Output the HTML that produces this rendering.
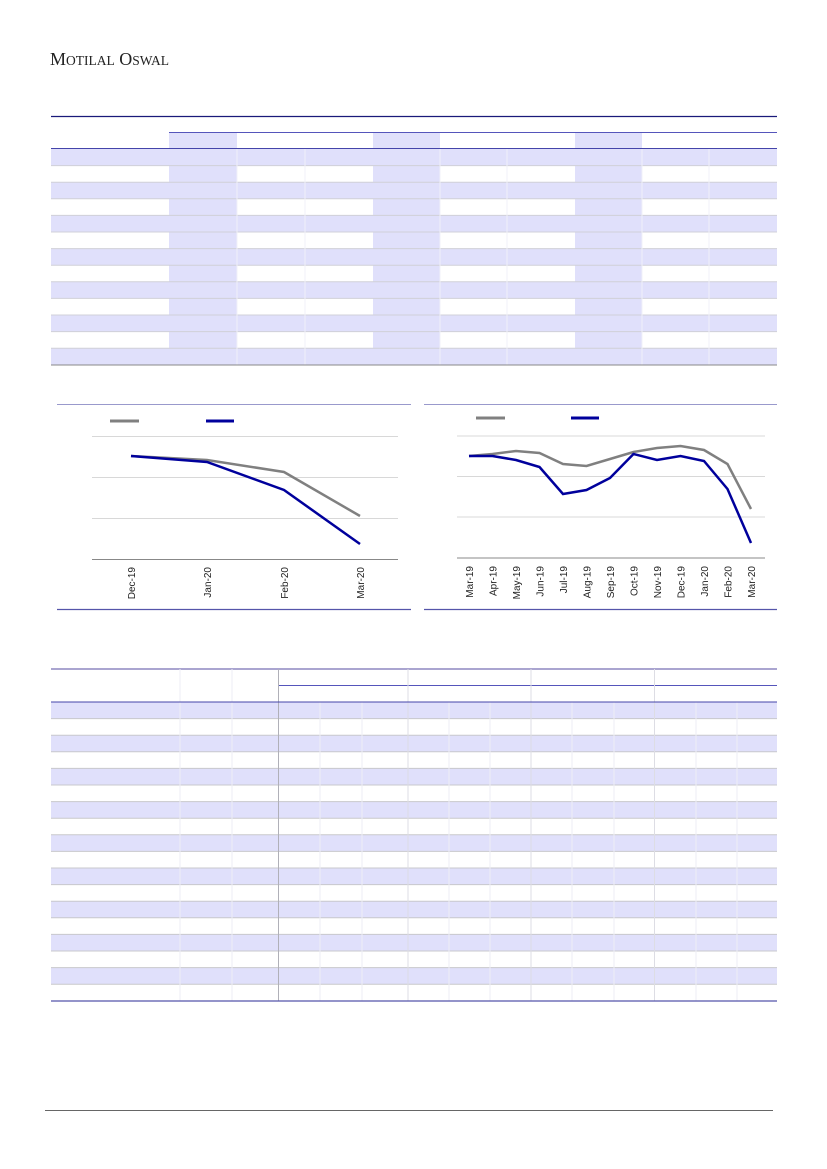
<!DOCTYPE html>
<html><head><meta charset="utf-8"><style>
html,body{margin:0;padding:0;background:#fff}
svg{display:block}
</style></head><body>
<svg width="827" height="1169" viewBox="0 0 827 1169" xmlns="http://www.w3.org/2000/svg" font-family="Liberation Sans, sans-serif">
<text x="50" y="65" font-family="Liberation Serif, serif" font-size="18" fill="#222">M<tspan font-size="13.5">OTILAL</tspan> O<tspan font-size="13.5">SWAL</tspan></text>

<!-- top table -->
<g>
<line x1="51" y1="116.5" x2="777" y2="116.5" stroke="#1a1a7a" stroke-width="1.2"/>
<line x1="169" y1="132.5" x2="777" y2="132.5" stroke="#5555bb" stroke-width="1"/>
<rect x="169" y="133" width="68" height="15" fill="#e0e0fb"/>
<rect x="373" y="133" width="67" height="15" fill="#e0e0fb"/>
<rect x="575" y="133" width="67" height="15" fill="#e0e0fb"/>
<g fill="#e0e0fb">
<rect x="51" y="149" width="726" height="16.6"/>
<rect x="51" y="182.2" width="726" height="16.6"/>
<rect x="51" y="215.4" width="726" height="16.6"/>
<rect x="51" y="248.6" width="726" height="16.6"/>
<rect x="51" y="281.8" width="726" height="16.6"/>
<rect x="51" y="315" width="726" height="16.6"/>
<rect x="51" y="348.2" width="726" height="16.6"/>
<rect x="169" y="149" width="68" height="216"/>
<rect x="373" y="149" width="67" height="216"/>
<rect x="575" y="149" width="67" height="216"/>
</g>
<g stroke="#d0d0d8" stroke-width="1">
<line x1="51" y1="165.6" x2="777" y2="165.6"/><line x1="51" y1="182.2" x2="777" y2="182.2"/>
<line x1="51" y1="198.8" x2="777" y2="198.8"/><line x1="51" y1="215.4" x2="777" y2="215.4"/>
<line x1="51" y1="232" x2="777" y2="232"/><line x1="51" y1="248.6" x2="777" y2="248.6"/>
<line x1="51" y1="265.2" x2="777" y2="265.2"/><line x1="51" y1="281.8" x2="777" y2="281.8"/>
<line x1="51" y1="298.4" x2="777" y2="298.4"/><line x1="51" y1="315" x2="777" y2="315"/>
<line x1="51" y1="331.6" x2="777" y2="331.6"/><line x1="51" y1="348.2" x2="777" y2="348.2"/>
</g>
<g stroke="#f0f0f8" stroke-width="1">
<line x1="237" y1="149" x2="237" y2="365"/><line x1="305" y1="149" x2="305" y2="365"/>
<line x1="440" y1="149" x2="440" y2="365"/><line x1="507" y1="149" x2="507" y2="365"/>
<line x1="642" y1="149" x2="642" y2="365"/><line x1="709" y1="149" x2="709" y2="365"/>
</g>
<line x1="51" y1="148.5" x2="777" y2="148.5" stroke="#4444aa" stroke-width="1"/>
<line x1="51" y1="365" x2="777" y2="365" stroke="#888" stroke-width="1"/>
</g>

<!-- chart 1 -->
<g>
<line x1="57" y1="404.5" x2="411" y2="404.5" stroke="#9999cc" stroke-width="1"/>
<line x1="57" y1="609.5" x2="411" y2="609.5" stroke="#5555aa" stroke-width="1.2"/>
<line x1="110" y1="421" x2="139" y2="421" stroke="#808080" stroke-width="3"/>
<line x1="206" y1="421" x2="234" y2="421" stroke="#00009c" stroke-width="3"/>
<g stroke="#d8d8d8" stroke-width="1"><line x1="92" y1="436.5" x2="398" y2="436.5"/><line x1="92" y1="477.5" x2="398" y2="477.5"/><line x1="92" y1="518.5" x2="398" y2="518.5"/></g>
<line x1="92" y1="559.5" x2="398" y2="559.5" stroke="#888" stroke-width="1"/>
<polyline points="131,456 207,460 284,472 360,516" fill="none" stroke="#808080" stroke-width="2.5"/>
<polyline points="131,456 207,462 284,490 360,544" fill="none" stroke="#00009c" stroke-width="2.5"/>
<g font-size="10" fill="#222" text-anchor="end">
<text transform="translate(135,567) rotate(-90)">Dec-19</text>
<text transform="translate(211,567) rotate(-90)">Jan-20</text>
<text transform="translate(288,567) rotate(-90)">Feb-20</text>
<text transform="translate(364,567) rotate(-90)">Mar-20</text>
</g>
</g>

<!-- chart 2 -->
<g>
<line x1="424" y1="404.5" x2="777" y2="404.5" stroke="#9999cc" stroke-width="1"/>
<line x1="424" y1="609.5" x2="777" y2="609.5" stroke="#5555aa" stroke-width="1.2"/>
<line x1="476" y1="418" x2="505" y2="418" stroke="#808080" stroke-width="3"/>
<line x1="571" y1="418" x2="599" y2="418" stroke="#00009c" stroke-width="3"/>
<g stroke="#d8d8d8" stroke-width="1"><line x1="457" y1="436" x2="765" y2="436"/><line x1="457" y1="476.5" x2="765" y2="476.5"/><line x1="457" y1="517" x2="765" y2="517"/></g>
<line x1="457" y1="558" x2="765" y2="558" stroke="#888" stroke-width="1"/>
<polyline points="469,456 492.5,454 516,451 539.5,453 563,464 586.5,466 610,459 633.5,452 657,448 680.5,446 704,450 727.5,464 751,509" fill="none" stroke="#808080" stroke-width="2.5"/>
<polyline points="469,456 492.5,456 516,460 539.5,467 563,494 586.5,490 610,478 633.5,454 657,460 680.5,456 704,461 727.5,489 751,543" fill="none" stroke="#00009c" stroke-width="2.5"/>
<g font-size="10" fill="#222" text-anchor="end">
<text transform="translate(473,566) rotate(-90)">Mar-19</text>
<text transform="translate(496.5,566) rotate(-90)">Apr-19</text>
<text transform="translate(520,566) rotate(-90)">May-19</text>
<text transform="translate(543.5,566) rotate(-90)">Jun-19</text>
<text transform="translate(567,566) rotate(-90)">Jul-19</text>
<text transform="translate(590.5,566) rotate(-90)">Aug-19</text>
<text transform="translate(614,566) rotate(-90)">Sep-19</text>
<text transform="translate(637.5,566) rotate(-90)">Oct-19</text>
<text transform="translate(661,566) rotate(-90)">Nov-19</text>
<text transform="translate(684.5,566) rotate(-90)">Dec-19</text>
<text transform="translate(708,566) rotate(-90)">Jan-20</text>
<text transform="translate(731.5,566) rotate(-90)">Feb-20</text>
<text transform="translate(755,566) rotate(-90)">Mar-20</text>
</g>
</g>

<!-- bottom table -->
<g>
<line x1="51" y1="669" x2="777" y2="669" stroke="#aaa5d0" stroke-width="2"/>
<line x1="278" y1="685.5" x2="777" y2="685.5" stroke="#5555bb" stroke-width="1"/>
<g fill="#e0e0fb">
<rect x="51" y="702" width="726" height="16.6"/>
<rect x="51" y="735.2" width="726" height="16.6"/>
<rect x="51" y="768.4" width="726" height="16.6"/>
<rect x="51" y="801.6" width="726" height="16.6"/>
<rect x="51" y="834.8" width="726" height="16.6"/>
<rect x="51" y="868" width="726" height="16.6"/>
<rect x="51" y="901.2" width="726" height="16.6"/>
<rect x="51" y="934.4" width="726" height="16.6"/>
<rect x="51" y="967.6" width="726" height="16.6"/>
</g>
<g stroke="#c8c8cc" stroke-width="1">
<line x1="51" y1="718.6" x2="777" y2="718.6"/><line x1="51" y1="735.2" x2="777" y2="735.2"/>
<line x1="51" y1="751.8" x2="777" y2="751.8"/><line x1="51" y1="768.4" x2="777" y2="768.4"/>
<line x1="51" y1="785" x2="777" y2="785"/><line x1="51" y1="801.6" x2="777" y2="801.6"/>
<line x1="51" y1="818.2" x2="777" y2="818.2"/><line x1="51" y1="834.8" x2="777" y2="834.8"/>
<line x1="51" y1="851.4" x2="777" y2="851.4"/><line x1="51" y1="868" x2="777" y2="868"/>
<line x1="51" y1="884.6" x2="777" y2="884.6"/><line x1="51" y1="901.2" x2="777" y2="901.2"/>
<line x1="51" y1="917.8" x2="777" y2="917.8"/><line x1="51" y1="934.4" x2="777" y2="934.4"/>
<line x1="51" y1="951" x2="777" y2="951"/><line x1="51" y1="967.6" x2="777" y2="967.6"/>
<line x1="51" y1="984.2" x2="777" y2="984.2"/>
</g>
<g stroke="#eeeef6" stroke-width="1">
<line x1="180" y1="669" x2="180" y2="1001"/><line x1="232" y1="669" x2="232" y2="1001"/>
<line x1="320" y1="702" x2="320" y2="1001"/><line x1="362" y1="702" x2="362" y2="1001"/>
<line x1="449" y1="702" x2="449" y2="1001"/><line x1="490" y1="702" x2="490" y2="1001"/>
<line x1="572" y1="702" x2="572" y2="1001"/><line x1="614" y1="702" x2="614" y2="1001"/>
<line x1="696" y1="702" x2="696" y2="1001"/><line x1="737" y1="702" x2="737" y2="1001"/>
</g>
<g stroke="#dddde4" stroke-width="1">
<line x1="408" y1="669" x2="408" y2="1001"/><line x1="531" y1="669" x2="531" y2="1001"/><line x1="654.5" y1="669" x2="654.5" y2="1001"/>
</g>
<line x1="278.5" y1="669" x2="278.5" y2="1001" stroke="#b0b0b8" stroke-width="1"/>
<line x1="51" y1="702" x2="777" y2="702" stroke="#4444aa" stroke-width="1"/>
<line x1="51" y1="1001" x2="777" y2="1001" stroke="#5555aa" stroke-width="1.2"/>
</g>

<line x1="45" y1="1110.5" x2="773" y2="1110.5" stroke="#666" stroke-width="1"/>
</svg>
</body></html>
